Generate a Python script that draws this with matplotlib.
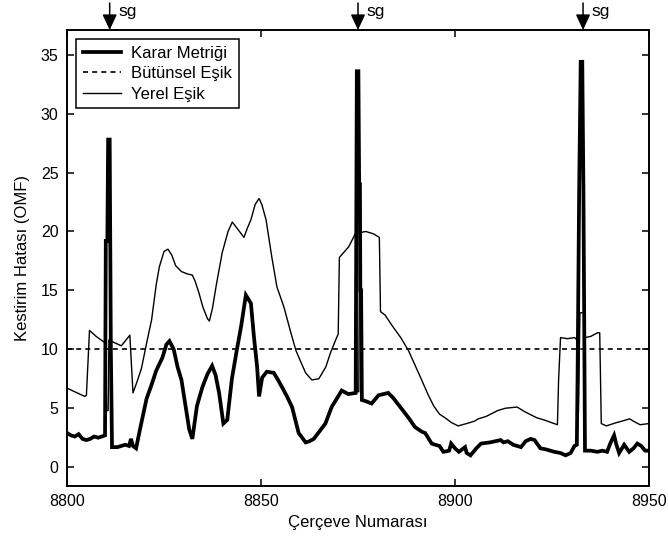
import numpy as np
import matplotlib
matplotlib.use("Agg")
import matplotlib.pyplot as plt

plt.rcParams["font.family"] = ["Liberation Sans", "DejaVu Sans"]

# Karar metriği (decision metric), frame numbers and values
frame_karar = [
    8800, 8801, 8802, 8803, 8804, 8805, 8806, 8807, 8808, 8809, 8809.8,
    8810.0, 8810.4, 8810.6, 8811.0, 8811.3, 8811.6,
    8813, 8814, 8815, 8816, 8816.5, 8817, 8817.8, 8819, 8820.5, 8821.8,
    8823, 8824.6, 8825.6, 8826.4, 8827.5, 8828.5, 8829.5, 8830.5, 8831.5,
    8832.3, 8833.5, 8834.9, 8836.2, 8837.4, 8838.3, 8839.2, 8840.3, 8841.3,
    8842.5, 8843.8, 8844.9, 8846.1, 8847.4, 8848.2, 8849.0, 8849.5, 8850.3,
    8851.5, 8853.3, 8854.4, 8855.4, 8856.7, 8858.0, 8859.0, 8859.7, 8861.5,
    8862.5, 8863.6, 8865.0, 8866.6, 8868.2, 8869.5, 8870.8, 8872.5, 8874.4,
    8874.7, 8875.1, 8875.3, 8875.5, 8875.6, 8875.8, 8876.0,
    8877, 8878.5, 8880.3, 8882.8, 8884.0, 8885.9, 8888.0, 8889.7, 8891.5,
    8892.3, 8894.0, 8894.9, 8896.0, 8897.0, 8898.5, 8899.0, 8900.0, 8901.0,
    8902.6, 8903.0, 8904.0, 8905.5, 8906.7, 8909.0, 8911.8, 8912.5, 8913.6,
    8915.0, 8917.0, 8918.2, 8919.5, 8920.5, 8922.0, 8923.5, 8925.6, 8927.2,
    8928.5, 8929.8, 8930.8, 8931.4,
    8931.6, 8932.0, 8932.4, 8932.8, 8933.1, 8933.5,
    8935.0, 8936.7, 8938.0, 8939.2, 8940.0, 8941.0, 8941.6, 8942.3, 8943.6,
    8944.9, 8946.0, 8947.0, 8948.0, 8949.0, 8950.0,
]
karar_metrigi = [
    2.9, 2.7, 2.6, 2.8, 2.4, 2.3, 2.4, 2.6, 2.5, 2.6, 2.7,
    19.2, 19.2, 27.8, 27.8, 10.0, 1.7,
    1.7, 1.8, 1.9, 1.8, 2.4, 1.8, 1.6, 3.5, 5.8, 7.0,
    8.2, 9.3, 10.4, 10.7, 10.0, 8.5, 7.4, 5.3, 3.2,
    2.4, 5.2, 6.8, 7.9, 8.6, 7.8, 6.3, 3.7, 4.0,
    7.5, 10.0, 12.0, 14.6, 13.9, 11.0, 8.5, 6.0, 7.6,
    8.1, 8.0, 7.4, 6.8, 6.0, 5.1, 3.8, 2.9, 2.1,
    2.2, 2.4, 3.0, 3.7, 5.1, 5.8, 6.5, 6.2, 6.3,
    33.6, 33.6, 24.0, 24.0, 15.0, 15.0, 5.7,
    5.6, 5.4, 6.1, 6.3, 5.9, 5.1, 4.2, 3.4, 3.0,
    2.9, 2.0, 1.9, 1.8, 1.3, 1.4, 2.0, 1.6, 1.3,
    1.7, 1.2, 1.0, 1.6, 2.0, 2.1, 2.3, 2.1, 2.2,
    1.9, 1.7, 2.2, 2.4, 2.3, 1.6, 1.5, 1.3, 1.2,
    1.0, 1.2, 1.8, 1.9,
    8.0, 23.5, 34.4, 34.4, 23.5, 1.4,
    1.4, 1.3, 1.4, 1.3, 2.0, 2.7, 1.9, 1.2, 1.9,
    1.3, 1.6, 2.0, 1.8, 1.4, 1.4,
]

# Yerel eşik (local threshold)
frame_yerel = [
    8800, 8802, 8804.6, 8805.0, 8805.8, 8807.5, 8809.6, 8810.0, 8810.2,
    8810.6, 8810.8, 8812, 8814, 8815, 8816.2, 8817.0, 8818, 8819.2, 8820.5,
    8821.8, 8823, 8823.8, 8825, 8826, 8827, 8828, 8829.5, 8831, 8832.3,
    8833, 8834, 8835, 8836.2, 8836.7, 8837.5, 8838.5, 8840, 8841.5, 8842.6,
    8844, 8845.6, 8846.5, 8847.4, 8848.5, 8849.5, 8850.2, 8851.3, 8852.8,
    8854.1, 8855.9, 8857.7, 8859, 8860.3, 8861.5, 8863.1, 8864.9, 8866.7,
    8867.9, 8869.5, 8869.9, 8870.2, 8872.6, 8874.3, 8874.6, 8874.8, 8875.2,
    8875.4, 8877, 8879, 8880.5, 8880.8, 8882, 8883.6, 8886, 8888, 8889.5,
    8891, 8893, 8894.5, 8896, 8897.4, 8899, 8900.8, 8903, 8905, 8906, 8908,
    8911, 8913, 8916, 8918, 8921, 8923, 8926.4, 8926.7, 8927.2, 8929,
    8930.8, 8931.4, 8931.8, 8932.2, 8933.4, 8933.6, 8935, 8936.7, 8937.3,
    8937.7, 8939, 8941.8, 8943, 8945, 8946, 8947.7, 8950,
]
yerel_esik = [
    6.7, 6.4, 6.0, 6.1, 11.6, 11.1, 10.6, 10.5, 4.8,
    4.8, 10.8, 10.6, 10.3, 10.7, 11.2, 6.3, 7.2, 8.4, 10.5,
    12.5, 15.5, 17.0, 18.3, 18.5, 18.0, 17.1, 16.6, 16.4, 16.3,
    15.8, 14.8, 13.6, 12.6, 12.4, 13.5, 15.5, 18.2, 20.0, 20.8,
    20.2, 19.5, 20.3, 21.0, 22.3, 22.8, 22.3, 21.0, 17.8,
    15.3, 13.6, 11.4, 9.9, 8.9, 8.0, 7.4, 7.5, 8.5,
    9.7, 11.0, 11.3, 17.8, 18.7, 19.8, 19.9, 6.4, 6.4,
    19.9, 20.0, 19.8, 19.5, 13.2, 12.9, 12.1, 11.0, 9.9, 8.8,
    7.7, 6.2, 5.2, 4.5, 4.2, 3.8, 3.5, 3.7, 3.9, 4.1, 4.3,
    4.8, 5.0, 5.1, 4.7, 4.2, 4.0, 3.6, 7.4, 11.0, 10.9,
    11.0, 10.8, 4.6, 13.1, 13.1, 11.0, 11.1, 11.4, 11.4,
    3.7, 3.5, 3.8, 3.9, 4.1, 3.9, 3.6, 3.7,
]

# Bütünsel eşik (global threshold)
butunsel_esik = 10.0

# Frames marked as scene changes
sg_frames = [8811, 8875, 8933]

x_ticks = [8800, 8850, 8900, 8950]
y_ticks = [0, 5, 10, 15, 20, 25, 30, 35]

fig = plt.figure(figsize=(6.68, 5.37), dpi=100)
ax = fig.add_axes([67 / 668, 51 / 537, 582 / 668, 456 / 537])

ax.plot(frame_karar, karar_metrigi, color="black", lw=2.7,
        solid_joinstyle="miter", label="Karar Metriği")
ax.axhline(butunsel_esik, color="black", lw=1.2, ls=(0, (3, 2.5)),
           label="Bütünsel Eşik")
ax.plot(frame_yerel, yerel_esik, color="black", lw=1.0, label="Yerel Eşik")

ax.set_xlim(8800, 8950)
ax.set_ylim(-1.6, 37.1)
ax.set_xticks(x_ticks)
ax.set_yticks(y_ticks)
ax.tick_params(direction="in", length=5, width=1.1, top=True, right=True,
               labelsize=11.5, pad=6)
for side in ax.spines.values():
    side.set_linewidth(1.4)

ax.set_xlabel("Çerçeve Numarası", fontsize=12, labelpad=4)
ax.set_ylabel("Kestirim Hatası (OMF)", fontsize=12, labelpad=8)

leg = ax.legend(loc="upper left", bbox_to_anchor=(9 / 582, 1 - 9 / 456),
                borderaxespad=0, fontsize=12, fancybox=False,
                edgecolor="black", framealpha=1, handlelength=2.3,
                handletextpad=0.6, borderpad=0.4, labelspacing=0.33)
leg.get_frame().set_linewidth(1.1)

# scene change markers above the plot
for f in sg_frames:
    ax.annotate("", xy=(f, 1.0), xycoords=("data", "axes fraction"),
                xytext=(f, 1.0 + 27 / 456), textcoords=("data", "axes fraction"),
                arrowprops=dict(arrowstyle="-|>,head_length=0.47,head_width=0.22",
                                color="black", lw=1.1, mutation_scale=20,
                                shrinkA=0, shrinkB=0),
                annotation_clip=False)
    ax.annotate("sg", xy=(f, 1.0), xycoords=("data", "axes fraction"),
                xytext=(6, 13), textcoords="offset points", ha="left",
                va="center", fontsize=12.5, annotation_clip=False)

fig.savefig("out.png", dpi=100)
